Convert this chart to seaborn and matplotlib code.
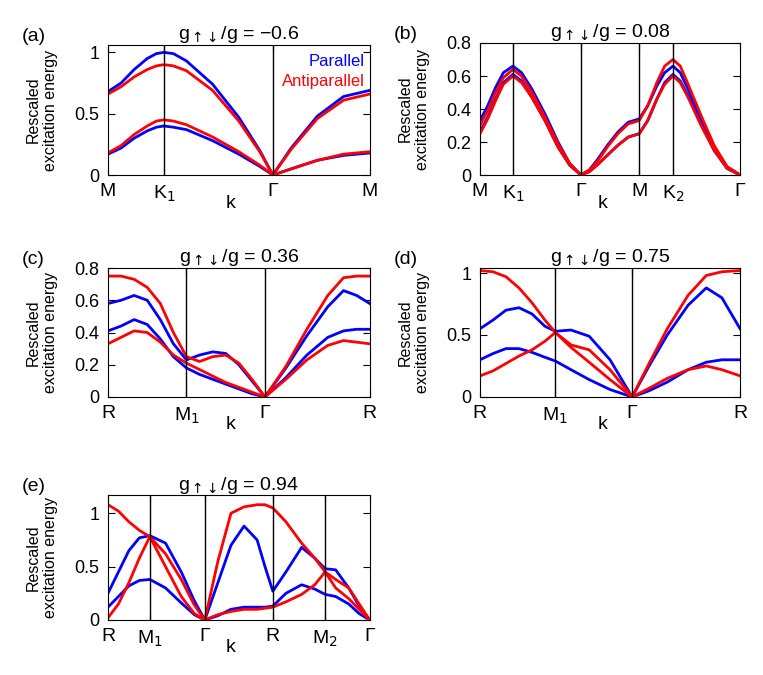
import matplotlib
matplotlib.use("Agg")
import matplotlib.pyplot as plt
import seaborn as sns

# ---- data ----
titles = ["g$_{\\uparrow\\!\\downarrow}$/g = \u22120.6", "g$_{\\uparrow\\!\\downarrow}$/g = 0.08",
          "g$_{\\uparrow\\!\\downarrow}$/g = 0.36", "g$_{\\uparrow\\!\\downarrow}$/g = 0.75",
          "g$_{\\uparrow\\!\\downarrow}$/g = 0.94"]
labels = ["(a)", "(b)", "(c)", "(d)", "(e)"]

a_x = [0, .05, .1, .15, .185, .214, .25, .3, .4, .5, .58, .63, .7, .8, .9, 1]
a_bu = [0.68, 0.75, 0.86, 0.95, 0.99, 1.0, 0.99, 0.93, 0.74, 0.47, 0.20, 0, 0.22, 0.48, 0.64, 0.69]
a_ru = [0.66, 0.72, 0.80, 0.86, 0.89, 0.90, 0.89, 0.85, 0.69, 0.44, 0.19, 0, 0.21, 0.46, 0.61, 0.66]
a_bl = [0.17, 0.22, 0.30, 0.36, 0.39, 0.40, 0.39, 0.37, 0.28, 0.17, 0.07, 0, 0.05, 0.12, 0.16, 0.18]
a_rl = [0.18, 0.24, 0.33, 0.40, 0.44, 0.45, 0.44, 0.41, 0.31, 0.19, 0.08, 0, 0.05, 0.12, 0.17, 0.19]
a_ticks = [0, .214, .63, 1]; a_tl = ["M", "K$_1$", "\u0393", "M"]

b_x = [0, .03, .06, .09, .127, .16, .2, .25, .3, .345, .388, .42, .45, .49, .53, .57, .612, .645, .68, .71, .742, .77, .8, .85, .9, .95, 1]
b_bu = [.33, .42, .53, .62, .66, .62, .52, .37, .20, .07, 0, .03, .09, .18, .26, .32, .34, .42, .54, .62, .66, .62, .52, .34, .17, .05, 0]
b_bl = [.26, .35, .46, .56, .61, .57, .47, .33, .17, .06, 0, .02, .06, .12, .18, .23, .25, .33, .46, .56, .61, .57, .48, .31, .15, .04, 0]
b_ru = [.30, .39, .50, .59, .64, .60, .50, .35, .19, .07, 0, .03, .08, .17, .25, .31, .33, .42, .56, .66, .70, .66, .55, .36, .18, .05, 0]
b_rl = [.25, .34, .45, .55, .60, .56, .47, .33, .17, .06, 0, .02, .06, .12, .18, .23, .25, .33, .46, .55, .60, .56, .47, .30, .15, .04, 0]
b_ticks = [0, .127, .388, .612, .742, 1]; b_tl = ["M", "K$_1$", "\u0393", "M", "K$_2$", "\u0393"]

c_x = [0, .05, .1, .15, .2, .25, .3, .35, .4, .45, .5, .55, .6, .68, .76, .84, .9, .95, 1]
c_bu = [.58, .60, .63, .60, .48, .33, .23, .26, .28, .27, .20, .10, 0, .18, .38, .56, .66, .63, .58]
c_bl = [.41, .44, .48, .45, .36, .25, .18, .14, .11, .08, .05, .02, 0, .12, .26, .37, .41, .42, .42]
c_ru = [.75, .75, .73, .68, .58, .40, .25, .22, .25, .26, .21, .11, 0, .19, .42, .63, .74, .75, .75]
c_rl = [.33, .37, .41, .40, .34, .26, .21, .17, .13, .09, .06, .03, 0, .11, .23, .32, .35, .34, .33]
c_ticks = [0, .30, .60, 1]; c_tl = ["R", "M$_1$", "\u0393", "R"]

d_x = [0, .05, .1, .15, .2, .25, .29, .35, .42, .5, .585, .65, .72, .8, .87, .93, 1]
d_bu = [.55, .62, .70, .72, .67, .57, .53, .54, .49, .30, 0, .25, .50, .74, .88, .80, .55]
d_bl = [.30, .35, .39, .39, .36, .32, .29, .22, .14, .06, 0, .05, .12, .22, .28, .30, .30]
d_ru = [1.02, 1.01, .97, .88, .76, .62, .52, .40, .28, .14, 0, .27, .55, .82, .98, 1.01, 1.02]
d_rl = [.17, .21, .27, .33, .38, .45, .52, .42, .38, .22, 0, .07, .15, .22, .25, .22, .17]
d_ticks = [0, .29, .585, 1]; d_tl = ["R", "M$_1$", "\u0393", "R"]

e_x = [0, .04, .08, .12, .16, .22, .28, .33, .37, .42, .47, .52, .57, .6, .63, .68, .74, .79, .83, .87, .92, .96, 1]
e_bu = [.25, .45, .65, .77, .79, .72, .45, .18, 0, .35, .70, .88, .75, .50, .27, .45, .68, .58, .48, .47, .30, .13, 0]
e_bl = [.12, .22, .32, .37, .38, .30, .16, .05, 0, .04, .10, .12, .12, .12, .13, .25, .33, .29, .24, .22, .15, .06, 0]
e_ru = [1.08, 1.02, .92, .84, .78, .50, .22, .06, 0, .55, 1.0, 1.06, 1.08, 1.08, 1.05, .92, .72, .58, .45, .30, .20, .10, 0]
e_rl = [.02, .15, .35, .58, .78, .62, .38, .14, 0, .05, .08, .10, .10, .11, .12, .17, .24, .33, .45, .38, .30, .15, 0]
e_ticks = [0, .16, .37, .63, .83, 1]; e_tl = ["R", "M$_1$", "\u0393", "R", "M$_2$", "\u0393"]

panels = [
    (a_x, [a_bu, a_bl], [a_ru, a_rl], a_ticks, a_tl, 1.06, [0, 0.5, 1], ["0", "0.5", "1"]),
    (b_x, [b_bu, b_bl], [b_ru, b_rl], b_ticks, b_tl, 0.8, [0, .2, .4, .6, .8], ["0", "0.2", "0.4", "0.6", "0.8"]),
    (c_x, [c_bu, c_bl], [c_ru, c_rl], c_ticks, c_tl, 0.8, [0, .2, .4, .6, .8], ["0", "0.2", "0.4", "0.6", "0.8"]),
    (d_x, [d_bu, d_bl], [d_ru, d_rl], d_ticks, d_tl, 1.04, [0, 0.5, 1], ["0", "0.5", "1"]),
    (e_x, [e_bu, e_bl], [e_ru, e_rl], e_ticks, e_tl, 1.17, [0, 0.5, 1], ["0", "0.5", "1"]),
]
rects = [
    [0.1415, 0.7407, 0.343, 0.1926],
    [0.629, 0.7407, 0.341, 0.1956],
    [0.1415, 0.4119, 0.343, 0.191],
    [0.629, 0.4119, 0.341, 0.191],
    [0.1415, 0.0815, 0.343, 0.185],
]

plt.rcParams["font.family"] = "Liberation Sans"
fig = plt.figure(figsize=(7.63, 6.75), dpi=100)
for i, (x, blues, reds, tk, tl, ytop, yt, ytl) in enumerate(panels):
    ax = fig.add_axes(rects[i])
    for y in blues:
        sns.lineplot(x=x, y=y, ax=ax, color="#0000ff", lw=2, sort=False, estimator=None)
    for y in reds:
        sns.lineplot(x=x, y=y, ax=ax, color="#ff0000", lw=2, sort=False, estimator=None)
    for t in tk[1:-1]:
        ax.axvline(t, color="black", lw=1)
    ax.set_xlim(0, 1)
    ax.set_ylim(0, ytop)
    ax.set_xticks(tk)
    ax.set_xticklabels(tl, fontsize=14)
    ax.set_yticks(yt)
    ax.set_yticklabels(ytl, fontsize=13)
    ax.tick_params(direction="in", top=True, right=True, length=5, pad=6)
    ax.set_xlabel("k", fontsize=14)
    ax.xaxis.set_label_coords(0.47, -0.15)
    ax.set_ylabel("Rescaled\nexcitation energy", fontsize=11.5)
    ax.yaxis.set_label_coords(-0.19, 0.5)
    ax.set_title(titles[i], fontsize=14, pad=4)
    ax.text(-0.33, 1.0, labels[i], transform=ax.transAxes, fontsize=14, va="bottom")
    if i == 0:
        ax.text(0.98, 0.93, "Parallel", color="#0000ff", transform=ax.transAxes, ha="right", va="top", fontsize=12)
        ax.text(0.98, 0.78, "Antiparallel", color="#ff0000", transform=ax.transAxes, ha="right", va="top", fontsize=12)
fig.savefig("out.png", dpi=100)
